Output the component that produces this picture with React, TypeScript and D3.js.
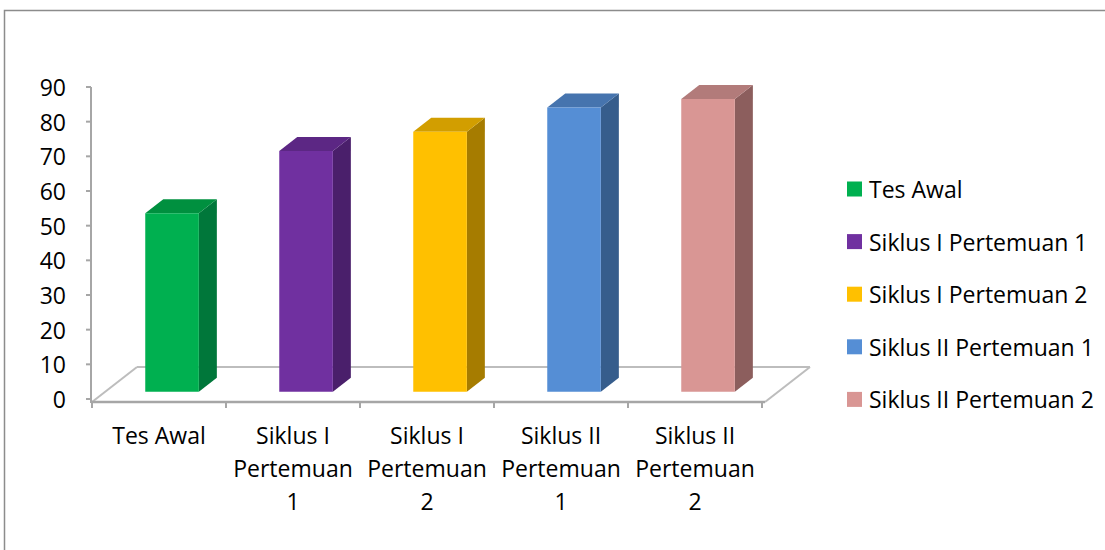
import React from "react";
import * as d3 from "d3";

const categories = ["Tes Awal", "Siklus I Pertemuan 1", "Siklus I Pertemuan 2", "Siklus II Pertemuan 1", "Siklus II Pertemuan 2"];
const axisLabelLines = [["Tes Awal"], ["Siklus I", "Pertemuan", "1"], ["Siklus I", "Pertemuan", "2"], ["Siklus II", "Pertemuan", "1"], ["Siklus II", "Pertemuan", "2"]];
const values = [51.5, 69.5, 75, 82, 84.5];
const yTicks = [0, 10, 20, 30, 40, 50, 60, 70, 80, 90];
const frontColors = ["#00B050", "#7030A0", "#FFC000", "#558ED5", "#D99694"];
const topColors = ["#00903F", "#5C2784", "#D29E00", "#4674AE", "#B27B7A"];
const sideColors = ["#00773A", "#4A1F6B", "#A67C00", "#365D8C", "#8C5E5D"];

const FONT = "'Open Sans', 'Noto Sans', sans-serif";

export default function App() {
  const W = 1105, H = 550;
  const x0 = 92, x1 = 762;
  const floorY = 402;
  const DX = 45, DY = 35;
  const dFront = 0.29, dBack = 0.69;

  const x = d3.scaleBand<string>().domain(categories).range([x0, x1]).paddingInner(0).paddingOuter(0);
  const y = d3.scaleLinear().domain([0, 90]).range([399, 87]);
  const bw = x.bandwidth() * 0.4;

  const proj = (px: number, v: number, d: number): [number, number] => [
    px + d * DX,
    floorY - d * DY - (y(0) - y(v)),
  ];
  const pts = (arr: [number, number][]) => arr.map((p) => p.join(",")).join(" ");

  const floor: [number, number][] = [
    [x0, floorY],
    [x1 + 3, floorY],
    [x1 + 3 + DX, floorY - DY],
    [x0 + DX, floorY - DY],
  ];

  return (
    <svg width={W} height={H} style={{ position: "absolute", left: 0, top: 0 }} fontFamily={FONT}>
      <rect x={0} y={0} width={W} height={H} fill="#fff" />
      <rect x={4.5} y={10.5} width={1300} height={700} fill="none" stroke="#8c8c8c" strokeWidth={1.5} />

      {/* floor */}
      <line x1={floor[1][0]} y1={floor[1][1]} x2={floor[2][0]} y2={floor[2][1]} stroke="#bdbdbd" strokeWidth={2} />
      <line x1={floor[2][0]} y1={floor[2][1]} x2={floor[3][0]} y2={floor[3][1]} stroke="#bdbdbd" strokeWidth={2} />
      <line x1={floor[3][0]} y1={floor[3][1]} x2={floor[0][0]} y2={floor[0][1]} stroke="#bdbdbd" strokeWidth={2} />

      {/* y axis */}
      <line x1={x0 - 1} y1={y(90)} x2={x0 - 1} y2={floorY + 1} stroke="#a6a6a6" strokeWidth={2} />
      {yTicks.map((t) => (
        <g key={t}>
          <line x1={x0 - 6} x2={x0 - 1} y1={y(t)} y2={y(t)} stroke="#a6a6a6" strokeWidth={2} />
          <text x={66} y={y(t)} textAnchor="end" dominantBaseline="central" fontSize={23} fill="#000">
            {t}
          </text>
        </g>
      ))}

      {/* x axis */}
      <line x1={x0 - 1} y1={floorY} x2={x1 + 3} y2={floorY} stroke="#a6a6a6" strokeWidth={2.5} />
      {[...categories.map((c) => x(c) as number), x1].map((t, i) => (
        <line key={i} x1={t} x2={t} y1={floorY} y2={floorY + 6} stroke="#a6a6a6" strokeWidth={2} />
      ))}
      {categories.map((c, i) => (
        <text key={c} x={(x(c) as number) + x.bandwidth() / 2} y={444} textAnchor="middle" fontSize={23} fill="#000">
          {axisLabelLines[i].map((l, j) => (
            <tspan key={j} x={(x(c) as number) + x.bandwidth() / 2} dy={j === 0 ? 0 : 33}>
              {l}
            </tspan>
          ))}
        </text>
      ))}

      {/* bars */}
      {categories.map((c, i) => {
        const v = values[i];
        const xl = (x(c) as number) + x.bandwidth() / 2 - bw / 2;
        const xr = xl + bw;
        const fbl = proj(xl, 0, dFront);
        const fbr = proj(xr, 0, dFront);
        const ftl = proj(xl, v, dFront);
        const ftr = proj(xr, v, dFront);
        const bbr = proj(xr, 0, dBack);
        const btr = proj(xr, v, dBack);
        const btl = proj(xl, v, dBack);
        return (
          <g key={c}>
            <polygon points={pts([fbr, ftr, btr, bbr])} fill={sideColors[i]} />
            <polygon points={pts([ftl, ftr, btr, btl])} fill={topColors[i]} />
            <polygon points={pts([fbl, fbr, ftr, ftl])} fill={frontColors[i]} />
          </g>
        );
      })}

      {/* legend */}
      {categories.map((c, i) => {
        const cy = 189 + i * 52.6;
        return (
          <g key={c}>
            <rect x={847} y={cy - 7.5} width={15} height={15} fill={frontColors[i]} />
            <text x={869} y={cy} dominantBaseline="central" fontSize={23} fill="#000">
              {c}
            </text>
          </g>
        );
      })}
    </svg>
  );
}
